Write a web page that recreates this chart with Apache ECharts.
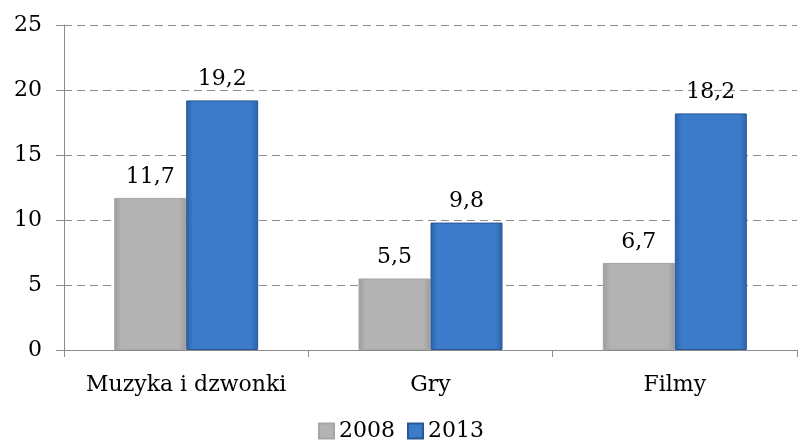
<!DOCTYPE html>
<html>
<head>
<meta charset="utf-8">
<title>Wykres</title>
<script src="https://cdn.jsdelivr.net/npm/echarts@6/dist/echarts.min.js"></script>
<style>
    html, body { margin: 0; padding: 0; background: #fff; }
    #chart { width: 802px; height: 447px; }
</style>
</head>
<body>
<div id="chart"></div>
<script>
var categories = ['Muzyka i dzwonki', 'Gry', 'Filmy'];
var values2008 = [11.7, 5.5, 6.7];
var values2013 = [19.2, 9.8, 18.2];
var yTicks = [0, 5, 10, 15, 20, 25];

var font = 'DejaVu Serif';

// bevel-like fill, edges darker than the middle
function bevel(edge, mid) {
    return new echarts.graphic.LinearGradient(0, 0, 1, 0, [
        { offset: 0, color: edge },
        { offset: 0.1, color: mid },
        { offset: 0.9, color: mid },
        { offset: 1, color: edge }
    ]);
}

var chart = echarts.init(document.getElementById('chart'));

var labelOpt = {
    show: true,
    position: 'top',
    distance: 10,
    fontFamily: font,
    fontSize: 22,
    color: '#000',
    formatter: function (p) { return String(p.value).replace('.', ','); }
};

chart.setOption({
    animation: false,
    textStyle: { fontFamily: font },
    grid: { left: 64, right: 5, top: 25, bottom: 97 },
    legend: {
        bottom: 0,
        left: 'center',
        itemWidth: 15,
        itemHeight: 15,
        itemGap: 12,
        icon: 'rect',
        textStyle: { fontFamily: font, fontSize: 22, color: '#000' },
        data: ['2008', '2013']
    },
    xAxis: {
        type: 'category',
        data: categories,
        axisLine: { lineStyle: { color: '#8c8c8c', width: 1 } },
        axisTick: { show: true, length: 7, lineStyle: { color: '#8c8c8c' } },
        axisLabel: { fontFamily: font, fontSize: 22, color: '#000', margin: 24, interval: 0 }
    },
    yAxis: {
        type: 'value',
        min: yTicks[0],
        max: yTicks[yTicks.length - 1],
        interval: 5,
        axisLine: { show: true, lineStyle: { color: '#8c8c8c', width: 1 } },
        axisTick: { show: true, length: 8, lineStyle: { color: '#8c8c8c' } },
        axisLabel: { fontFamily: font, fontSize: 22, color: '#000', margin: 22 },
        splitLine: { lineStyle: { color: '#8c8c8c', type: [8, 5], width: 1 } }
    },
    series: [
        {
            name: '2008',
            type: 'bar',
            data: values2008,
            barWidth: 72,
            barGap: '0%',
            itemStyle: {
                color: bevel('#9c9c9c', '#b3b3b3'),
                borderColor: '#a5a5a5',
                borderWidth: 1
            },
            label: labelOpt
        },
        {
            name: '2013',
            type: 'bar',
            data: values2013,
            barWidth: 72,
            itemStyle: {
                color: bevel('#2d62a8', '#3c7bc9'),
                borderColor: '#2a5794',
                borderWidth: 1
            },
            label: labelOpt
        }
    ]
});
</script>
</body>
</html>
